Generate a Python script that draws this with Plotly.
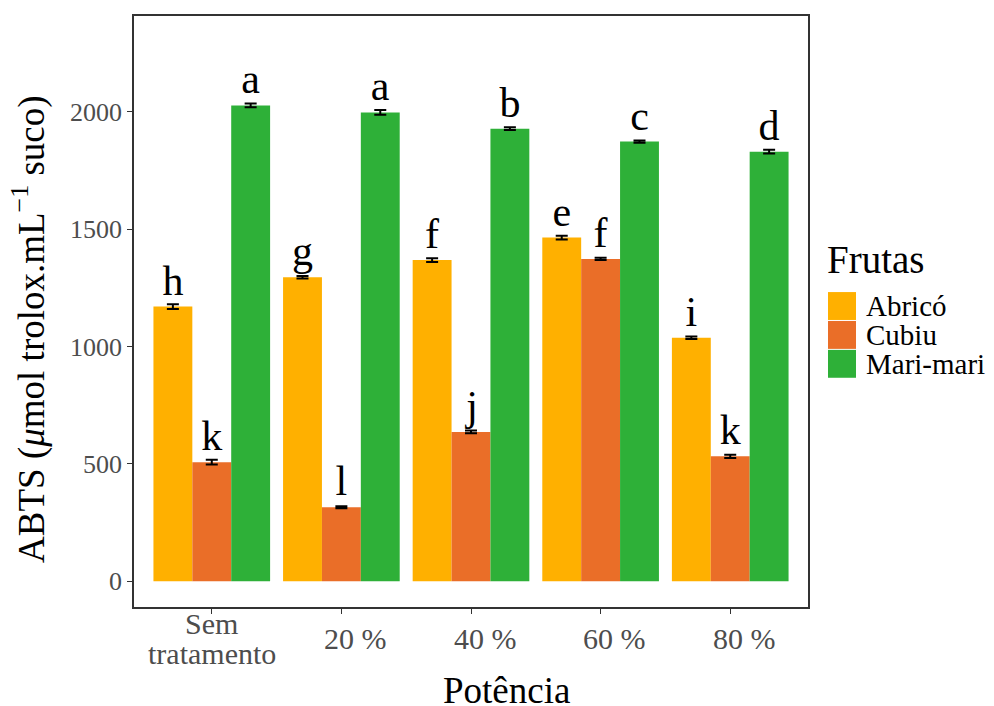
import plotly.graph_objects as go

categories = ["Sem<br>tratamento", "20 %", "40 %", "60 %", "80 %"]
series_names = ["Abricó", "Cubiu", "Mari-mari"]
abrico = [1170, 1295, 1368, 1464, 1037]
cubiu = [507, 315, 636, 1373, 532]
mari = [2027, 1997, 1928, 1873, 1830]
abrico_err = [10, 5, 8, 8, 5]
cubiu_err = [10, 4, 6, 5, 7]
mari_err = [8, 10, 6, 5, 8]
abrico_letters = ["h", "g", "f", "e", "i"]
cubiu_letters = ["k", "l", "j", "f", "k"]
mari_letters = ["a", "a", "b", "c", "d"]
colors = ["#FFB000", "#EA6E28", "#2EB038"]
yticks = [0, 500, 1000, 1500, 2000]

FONT = "Liberation Serif"
OFF = 8  # page body margin
# panel position in the 994x706 window
PL, PR, PT, PB = 134, 808, 14, 607
W, H = 994 - OFF, 706 - OFF
ML, MT = PL - OFF, PT - OFF
MR, MB = W - (PR - OFF), H - (PB - OFF)
PW, PH = PR - PL, PB - PT


def px2x(px):
    return (px - PL) / PW


def px2y(py):
    return 1 - (py - PT) / PH


fig = go.Figure()
for name, vals, errs, letters, col in zip(
    series_names,
    [abrico, cubiu, mari],
    [abrico_err, cubiu_err, mari_err],
    [abrico_letters, cubiu_letters, mari_letters],
    colors,
):
    fig.add_trace(
        go.Bar(
            name=name,
            x=categories,
            y=vals,
            marker=dict(color=col, line=dict(width=0)),
            error_y=dict(type="data", array=errs, visible=True,
                         color="black", thickness=2, width=6),
            text=letters,
            textposition="outside",
            constraintext="none",
            cliponaxis=False,
            textfont=dict(family=FONT, size=42, color="black"),
            showlegend=False,
        )
    )

fig.update_layout(
    width=W,
    height=H,
    margin=dict(l=ML, r=MR, t=MT, b=MB),
    plot_bgcolor="white",
    paper_bgcolor="white",
    barmode="group",
    bargap=0.1,
    bargroupgap=0,
    font=dict(family=FONT),
    xaxis=dict(
        type="category",
        range=[-0.6, 4.6],
        tickmode="array",
        tickvals=categories,
        showticklabels=False,
        showline=True, mirror=True, linecolor="#333333", linewidth=1.5,
        ticks="outside", ticklen=5, tickcolor="#333333", tickwidth=1.3,
        showgrid=False, zeroline=False,
    ),
    yaxis=dict(
        range=[-110, 2408],
        tickmode="array",
        tickvals=yticks,
        ticktext=[str(v) for v in yticks],
        showline=True, mirror=True, linecolor="#333333", linewidth=1.5,
        ticks="outside", ticklen=5, tickcolor="#333333", tickwidth=1.3,
        tickfont=dict(family=FONT, size=26, color="#4D4D4D"),
        showgrid=False, zeroline=False,
    ),
)

annotations = []
# x tick labels (multi-line labels vertically centred like the reference)
for cat in categories:
    lines = cat.split("<br>")
    n = len(lines)
    shift = 14 if "%" in cat else 0
    for i, line in enumerate(lines):
        cy = 639 + (i - (n - 1) / 2) * 30
        annotations.append(dict(
            text=line, x=cat, xref="x", y=px2y(cy), yref="paper",
            xanchor="center", yanchor="middle", xshift=shift, showarrow=False,
            font=dict(family=FONT, size=30, color="#4D4D4D")))

annotations += [
    dict(text="Potência", x=px2x(507), y=px2y(691), xref="paper", yref="paper",
         xanchor="center", yanchor="middle", showarrow=False,
         font=dict(family=FONT, size=37, color="black")),
    dict(text="ABTS (<i>μ</i>mol trolox.mL<sup>−1</sup> suco)", x=px2x(29), y=px2y(328),
         xref="paper", yref="paper", xanchor="center", yanchor="middle",
         textangle=-90, showarrow=False,
         font=dict(family=FONT, size=37, color="black")),
    dict(text="Frutas", x=px2x(825), y=px2y(258), xref="paper", yref="paper",
         xanchor="left", yanchor="middle", showarrow=False,
         font=dict(family=FONT, size=39, color="black")),
]
shapes = []
for i, (name, col) in enumerate(zip(series_names, colors)):
    top = 291 + 29 * i
    shapes.append(dict(type="rect", xref="paper", yref="paper",
                       x0=px2x(828), x1=px2x(856), y0=px2y(top + 28), y1=px2y(top),
                       fillcolor=col, line=dict(width=0)))
    annotations.append(dict(text=name, x=px2x(864), y=px2y(top + 14),
                            xref="paper", yref="paper", xanchor="left", yanchor="middle",
                            showarrow=False, font=dict(family=FONT, size=29, color="black")))

fig.update_layout(annotations=annotations, shapes=shapes)
fig.write_html("out.html")
